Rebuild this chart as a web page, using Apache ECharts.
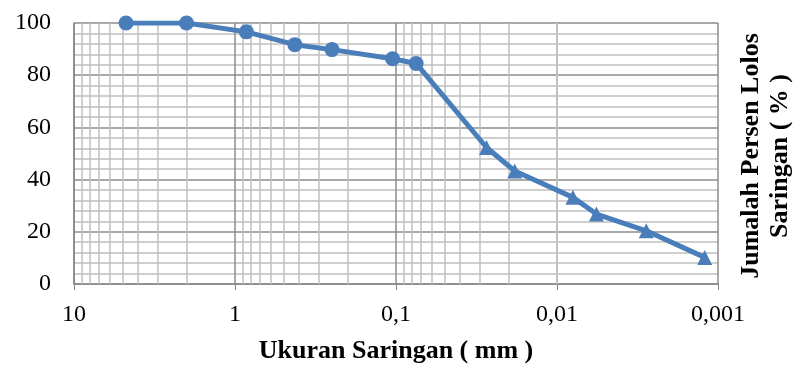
<!DOCTYPE html>
<html>
<head>
<meta charset="utf-8">
<script src="https://cdn.jsdelivr.net/npm/echarts@6/dist/echarts.min.js"></script>
<style>
  html, body { margin: 0; padding: 0; background: #fff; }
  #chart { width: 796px; height: 369px; }
</style>
</head>
<body>
<div id="chart"></div>
<script>
// sieve sizes (mm) and cumulative percent passing
const sieveSize = [4.75, 2.0, 0.85, 0.425, 0.25, 0.105, 0.075]
const sievePass = [100, 100, 96.6, 91.7, 89.8, 86.3, 84.5]
// hydrometer part
const hydroSize = [0.0274, 0.0183, 0.00796, 0.00569, 0.00279, 0.00121]
const hydroPass = [52.3, 43.3, 33.2, 26.8, 20.4, 10.2]

const decades = [0.001, 0.01, 0.1, 1]
const minorMult = [2, 3, 4, 5, 6, 7, 8, 9]

const blue = '#4a7ebb'
const serif = '"Liberation Serif", "Times New Roman", serif'

const lineData = sieveSize.map((s, i) => ({ value: [s, sievePass[i]], symbol: 'circle' }))
  .concat(hydroSize.map((s, i) => ({ value: [s, hydroPass[i]], symbol: 'triangle' })))

const minorLines = []
decades.forEach(d => minorMult.forEach(m => minorLines.push({ xAxis: +(d * m).toPrecision(3) })))

const chart = echarts.init(document.getElementById('chart'))
chart.setOption({
  animation: false,
  grid: { left: 74, right: 78, top: 23, bottom: 84 },
  xAxis: {
    type: 'log', logBase: 10, min: 0.001, max: 10, inverse: true,
    axisLine: { lineStyle: { color: '#868686', width: 1.5 } },
    axisTick: { show: true, length: 6, lineStyle: { color: '#868686' } },
    axisLabel: {
      color: '#000', fontFamily: serif, fontSize: 24, margin: 19,
      formatter: v => String(+v.toPrecision(3)).replace('.', ',')
    },
    splitLine: { show: true, lineStyle: { color: '#8c8c8c', width: 1.5 } },
    name: 'Ukuran Saringan ( mm )', nameLocation: 'middle', nameGap: 54,
    nameTextStyle: { color: '#000', fontFamily: serif, fontSize: 26, fontWeight: 'bold' }
  },
  yAxis: {
    type: 'value', min: 0, max: 100, interval: 20,
    axisLine: { show: true, lineStyle: { color: '#868686', width: 1.5 } },
    axisTick: { show: false },
    axisLabel: { color: '#000', fontFamily: serif, fontSize: 24, margin: 23 },
    splitLine: { show: true, lineStyle: { color: '#8c8c8c', width: 1.5 } },
    minorTick: { show: false, splitNumber: 5 },
    minorSplitLine: { show: true, lineStyle: { color: '#c0c0c0', width: 1.5 } }
  },
  graphic: [{
    type: 'text', x: 766, y: 156, rotation: Math.PI / 2,
    style: {
      text: 'Jumalah Persen Lolos\nSaringan ( % )', align: 'center', verticalAlign: 'middle',
      font: 'bold 26px ' + serif, fill: '#000', lineHeight: 29
    }
  }],
  series: [{
    type: 'line', data: [], silent: true, z: 1,
    markLine: {
      silent: true, symbol: 'none', label: { show: false }, z: 1,
      lineStyle: { color: '#c0c0c0', width: 1.5, type: 'solid' },
      data: minorLines
    }
  }, {
    type: 'line', data: lineData, z: 3,
    symbolSize: 15,
    lineStyle: { color: blue, width: 5 },
    itemStyle: { color: blue }
  }]
})
</script>
</body>
</html>
